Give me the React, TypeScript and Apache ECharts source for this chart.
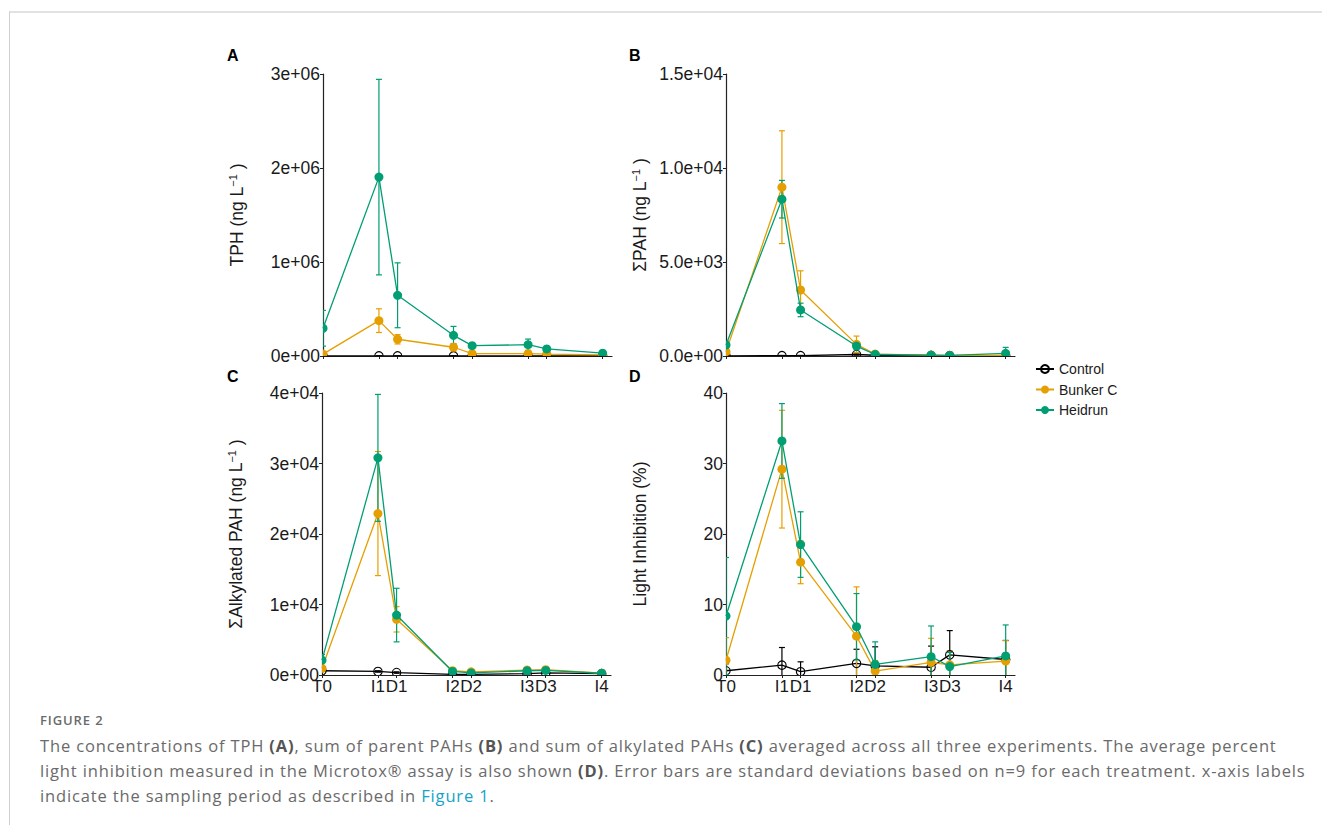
import React, { useEffect, useRef } from 'react';
import * as echarts from 'echarts';

// ---------- data ----------
const sampleDays = [0, 3, 4, 7, 8, 11, 12, 15];
const sampleLabels = ['T0', 'I1', 'D1', 'I2', 'D2', 'I3', 'D3', 'I4'];
const treatments = ['Control', 'Bunker C', 'Heidrun'];

// A: TPH (ng/L)
const tphControl = [1000, 1000, 1000, 1000, 1000, 1000, 1000, 1000];
const tphControlSd = [500, 500, 500, 500, 500, 500, 500, 500];
const tphBunker = [20000, 376000, 178000, 93000, 25000, 25000, 20000, 12000];
const tphBunkerSd = [15000, 126000, 50000, 40000, 10000, 8000, 6000, 5000];
const tphHeidrun = [295000, 1903000, 646000, 220000, 110000, 120000, 75000, 30000];
const tphHeidrunSd = [190000, 1040000, 345000, 95000, 15000, 60000, 15000, 10000];

// B: sum parent PAH (ng/L)
const pahControl = [10, 20, 20, 80, 40, 20, 20, 20];
const pahControlSd = [10, 10, 10, 30, 20, 10, 10, 10];
const pahBunker = [230, 8980, 3510, 620, 100, 50, 30, 30];
const pahBunkerSd = [150, 3000, 1020, 440, 50, 30, 20, 20];
const pahHeidrun = [580, 8340, 2450, 530, 80, 50, 30, 140];
const pahHeidrunSd = [200, 1000, 360, 200, 40, 20, 20, 320];

// C: sum alkylated PAH (ng/L)
const alkControl = [600, 500, 350, 100, 100, 200, 300, 200];
const alkControlSd = [100, 100, 100, 50, 50, 50, 50, 50];
const alkBunker = [950, 22900, 7900, 600, 450, 700, 750, 250];
const alkBunkerSd = [400, 8800, 1800, 200, 150, 200, 200, 100];
const alkHeidrun = [2100, 30800, 8500, 500, 300, 600, 650, 250];
const alkHeidrunSd = [800, 9000, 3800, 200, 150, 200, 200, 100];

// D: light inhibition (%)
const liControl = [0.6, 1.4, 0.47, 1.65, 1.3, 1.1, 2.85, 2.2];
const liControlSd = [1.0, 2.5, 1.4, 2.0, 2.7, 3.0, 3.45, 2.7];
const liBunker = [2.1, 29.2, 16.0, 5.5, 0.55, 1.8, 1.45, 1.98];
const liBunkerSd = [3.2, 8.35, 3.05, 7.0, 1.5, 3.4, 2.0, 2.9];
const liHeidrun = [8.37, 33.2, 18.5, 6.85, 1.5, 2.6, 1.2, 2.7];
const liHeidrunSd = [8.3, 5.3, 4.65, 4.7, 3.2, 4.35, 2.0, 4.4];

// y-axis definitions
const yMaxes = [3e6, 1.5e4, 4e4, 40];
const yIntervals = [1e6, 5e3, 1e4, 10];
const yDigits = [0, 1, 0, -1];
const yNames = ['TPH (ng L', 'ΣPAH (ng L', 'ΣAlkylated PAH (ng L', 'Light Inhibition (%)'];
const panelLetters = ['A', 'B', 'C', 'D'];

const COLORS = ['#000000', '#E69F00', '#009E73'];
const FONT = '"Liberation Sans", Arial, Helvetica, sans-serif';
const TXT = '#1a1a1a';

function sci(v: number, digits: number): string {
  if (digits < 0) return String(v);
  if (v === 0) return (0).toFixed(digits) + 'e+00';
  const e = Math.floor(Math.log10(v) + 1e-9);
  const m = v / Math.pow(10, e);
  return m.toFixed(digits) + 'e+' + String(e).padStart(2, '0');
}

const GRIDS = [
  { left: 323, top: 74, width: 289, height: 282 },
  { left: 726, top: 74, width: 289, height: 282 },
  { left: 322, top: 393, width: 289, height: 282 },
  { left: 726, top: 393, width: 289, height: 282 },
];

function ctrlItemStyle(i: number) {
  return i === 0
    ? { color: 'rgba(0,0,0,0)', borderColor: '#000', borderWidth: 1.2 }
    : { color: COLORS[i], borderWidth: 0 };
}

function buildOption() {
  const panels = [
    { means: [tphControl, tphBunker, tphHeidrun], sds: [tphControlSd, tphBunkerSd, tphHeidrunSd] },
    { means: [pahControl, pahBunker, pahHeidrun], sds: [pahControlSd, pahBunkerSd, pahHeidrunSd] },
    { means: [alkControl, alkBunker, alkHeidrun], sds: [alkControlSd, alkBunkerSd, alkHeidrunSd] },
    { means: [liControl, liBunker, liHeidrun], sds: [liControlSd, liBunkerSd, liHeidrunSd] },
  ];

  // legend-only series (line + symbol icon)
  const legendSeries: any[] = treatments.map((t, ti) => ({
    type: 'line',
    name: t,
    xAxisIndex: 0,
    yAxisIndex: 0,
    data: [],
    symbol: 'circle',
    symbolSize: 9,
    silent: true,
    lineStyle: { color: COLORS[ti], width: 1.3 },
    itemStyle: ctrlItemStyle(ti),
  }));

  const lineSeries: any[] = [];
  const errSeries: any[] = [];
  const pointSeries: any[] = [];

  panels.forEach((p, gi) => {
    const yMax = yMaxes[gi];
    treatments.forEach((t, ti) => {
      const color = COLORS[ti];
      const mean = p.means[ti];
      const sd = p.sds[ti];
      const isCtrl = ti === 0;
      lineSeries.push({
        type: 'line',
        xAxisIndex: gi,
        yAxisIndex: gi,
        data: sampleDays.map((d, k) => [d, mean[k]]),
        showSymbol: false,
        symbol: 'none',
        clip: true,
        silent: true,
        z: 3 + ti * 2,
        lineStyle: { color, width: 1.3 },
        itemStyle: { color },
        emphasis: { disabled: true },
      });
      errSeries.push({
        type: 'custom',
        xAxisIndex: gi,
        yAxisIndex: gi,
        silent: true,
        clip: true,
        z: 2 + ti * 2,
        data: sampleDays.map((d, k) => [d, mean[k] - sd[k], mean[k] + sd[k]]),
        encode: { x: 0, y: [1, 2] },
        renderItem: (params: any, api: any) => {
          const x = api.value(0);
          const lo = api.value(1);
          const hi = api.value(2);
          const loC = Math.max(lo, 0);
          const hiC = Math.min(hi, yMax);
          const pLo = api.coord([x, loC]);
          const pHi = api.coord([x, hiC]);
          const w = 3;
          const style = { stroke: color, lineWidth: 1.2, fill: null };
          const children: any[] = [
            { type: 'line', shape: { x1: pLo[0], y1: pLo[1], x2: pHi[0], y2: pHi[1] }, style },
          ];
          if (hi <= yMax)
            children.push({ type: 'line', shape: { x1: pHi[0] - w, y1: pHi[1], x2: pHi[0] + w, y2: pHi[1] }, style });
          if (lo >= 0)
            children.push({ type: 'line', shape: { x1: pLo[0] - w, y1: pLo[1], x2: pLo[0] + w, y2: pLo[1] }, style });
          return { type: 'group', children };
        },
      });
      pointSeries.push({
        type: 'custom',
        xAxisIndex: gi,
        yAxisIndex: gi,
        silent: true,
        clip: true,
        z: 4 + ti * 2,
        data: sampleDays.map((d, k) => [d, mean[k]]),
        encode: { x: 0, y: 1 },
        renderItem: (params: any, api: any) => {
          const pt = api.coord([api.value(0), api.value(1)]);
          return {
            type: 'circle',
            shape: { cx: pt[0], cy: pt[1], r: isCtrl ? 4.2 : 4.5 },
            style: isCtrl
              ? { fill: 'rgba(0,0,0,0)', stroke: '#000', lineWidth: 1.1 }
              : { fill: color, stroke: null },
          };
        },
      });
    });
  });
  const series = [...legendSeries, ...lineSeries, ...errSeries, ...pointSeries];

  const xAxis = GRIDS.map((_, gi) => ({
    type: 'value',
    gridIndex: gi,
    min: 0,
    max: 15.5,
    axisLine: { show: true, lineStyle: { color: '#222', width: 1.2 } },
    axisTick: { show: true, customValues: sampleDays, length: 3, lineStyle: { color: '#222', width: 1 } },
    axisLabel: {
      show: gi >= 2,
      customValues: sampleDays,
      formatter: (v: number) => {
        const i = sampleDays.indexOf(v);
        return i >= 0 ? sampleLabels[i] : '';
      },
      fontSize: 17,
      fontFamily: FONT,
      color: TXT,
      margin: 3,
      hideOverlap: false,
    },
    splitLine: { show: false },
  }));

  const yAxis = GRIDS.map((_, gi) => ({
    type: 'value',
    gridIndex: gi,
    min: 0,
    max: yMaxes[gi],
    interval: yIntervals[gi],
    axisLine: { show: true, lineStyle: { color: '#222', width: 1.2 } },
    axisTick: { show: true, length: 3, lineStyle: { color: '#222', width: 1 } },
    axisLabel: {
      formatter: (v: number) => sci(v, yDigits[gi]),
      fontSize: 17.5,
      fontFamily: FONT,
      color: TXT,
      margin: 3,
    },
    splitLine: { show: false },
    name: gi === 3 ? '{t|' + yNames[gi] + '}' : '{t|' + yNames[gi] + '}{s|−1}{t| )}',
    nameLocation: 'middle',
    nameGap: 76,
    nameRotate: 90,
    nameTextStyle: {
      rich: {
        t: { fontSize: 17.5, fontFamily: FONT, color: TXT, lineHeight: 20 },
        s: { fontSize: 11, fontFamily: FONT, color: TXT, verticalAlign: 'top', lineHeight: 20 },
      },
    },
  }));

  const letterPos = [
    [227, 55],
    [629, 55],
    [227, 376],
    [629, 376],
  ];

  return {
    animation: false,
    backgroundColor: '#ffffff',
    grid: GRIDS,
    xAxis,
    yAxis,
    series,
    legend: {
      data: treatments,
      orient: 'vertical',
      left: 1030,
      top: 357,
      padding: 5,
      itemWidth: 18,
      itemHeight: 10,
      itemGap: 6.5,
      selectedMode: false,
      textStyle: { fontSize: 14, fontFamily: FONT, color: TXT },
    },
    graphic: [
      ...panelLetters.map((L, i) => ({
        type: 'text',
        left: letterPos[i][0],
        top: letterPos[i][1] - 8,
        style: { text: L, font: 'bold 16px ' + FONT, fill: '#000' },
      })),
    ],
  };
}

function Chart() {
  const ref = useRef<HTMLDivElement>(null);
  useEffect(() => {
    if (!ref.current) return;
    const chart = echarts.init(ref.current, undefined, { renderer: 'svg' });
    chart.setOption(buildOption() as any);
    return () => chart.dispose();
  }, []);
  return <div ref={ref} style={{ position: 'absolute', left: 0, top: 0, width: 1322, height: 705 }} />;
}

const capFont = '"Open Sans", "Noto Sans", sans-serif';

export default function App() {
  return (
    <div style={{ position: 'fixed', left: 0, top: 0, width: 1322, height: 825, background: '#fff', overflow: 'hidden' }}>
      <Chart />
      <div style={{ position: 'absolute', left: 9, top: 11, right: 0, height: 2, background: '#e2e2e2' }} />
      <div style={{ position: 'absolute', left: 9, top: 12, width: 1, bottom: 0, background: '#cfcfcf' }} />
      <div
        style={{
          position: 'absolute',
          left: 40,
          top: 711,
          fontFamily: capFont,
          fontSize: 13,
          fontWeight: 600,
          color: '#6b6b6b',
          letterSpacing: 0.9,
        }}
      >
        FIGURE 2
      </div>
      <div
        style={{
          position: 'absolute',
          left: 40,
          top: 733,
          fontFamily: capFont,
          fontSize: 16.5,
          lineHeight: '25px',
          letterSpacing: 0.85,
          color: '#6a6a6a',
          whiteSpace: 'nowrap',
        }}
      >
        The concentrations of TPH <b style={{ color: '#555' }}>(A)</b>, sum of parent PAHs <b style={{ color: '#555' }}>(B)</b> and sum of alkylated PAHs <b style={{ color: '#555' }}>(C)</b> averaged across all three experiments. The average percent
        <br />
        light inhibition measured in the Microtox® assay is also shown <b style={{ color: '#555' }}>(D)</b>. Error bars are standard deviations based on n=9 for each treatment. x-axis labels
        <br />
        indicate the sampling period as described in <span style={{ color: '#14a3c7' }}>Figure 1</span>.
      </div>
    </div>
  );
}
